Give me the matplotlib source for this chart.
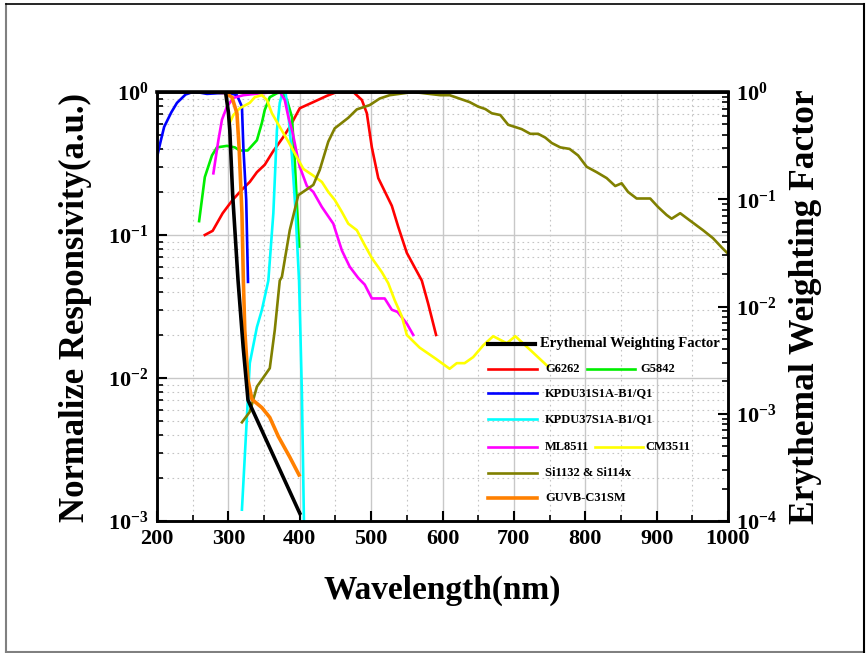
import matplotlib
matplotlib.use('Agg')
import matplotlib.pyplot as plt
from matplotlib.lines import Line2D
from matplotlib.ticker import FixedLocator, FixedFormatter, LogLocator, NullFormatter, MultipleLocator

plt.rcParams['font.family'] = ['Liberation Serif', 'DejaVu Serif']
plt.rcParams['font.weight'] = 'bold'
plt.rcParams['mathtext.fontset'] = 'custom'
plt.rcParams['mathtext.rm'] = 'Liberation Serif:bold'
plt.rcParams['mathtext.bf'] = 'Liberation Serif:bold'
plt.rcParams['mathtext.it'] = 'Liberation Serif:bold:italic'

# ---------------- data ----------------
wl_g6262 = [267, 278, 292, 306, 320, 330, 340, 351, 362, 377, 386, 400, 419, 438, 452, 475,
            487, 494, 501, 510, 529, 538, 550, 571, 580, 591]
r_g6262 = [0.10, 0.107, 0.142, 0.176, 0.21, 0.235, 0.275, 0.31, 0.38, 0.485, 0.57, 0.77, 0.85,
           0.94, 1.0, 1.0, 0.88, 0.71, 0.41, 0.25, 0.16, 0.114, 0.075, 0.048, 0.033, 0.020]

wl_g5842 = [259, 267, 277, 284, 298, 309, 316, 327, 340, 347, 351, 358, 368, 375, 382, 389, 393, 399]
r_g5842 = [0.125, 0.254, 0.36, 0.41, 0.42, 0.41, 0.39, 0.39, 0.46, 0.61, 0.75, 0.92, 0.98, 1.0,
           0.88, 0.67, 0.33, 0.083]

wl_kpdu31 = [200, 205, 210, 220, 228, 240, 250, 260, 270, 285, 300, 306, 312, 319, 321, 325, 327.5]
r_kpdu31 = [0.35, 0.45, 0.57, 0.72, 0.84, 0.96, 1.0, 0.99, 0.97, 0.98, 0.98, 0.97, 0.95, 0.79,
            0.41, 0.176, 0.047]

wl_kpdu37 = [319, 330, 340, 347, 356, 363, 368, 372, 376, 380, 384, 389, 394, 399, 401, 403, 404.5, 406]
r_kpdu37 = [0.0012, 0.0127, 0.0227, 0.030, 0.048, 0.142, 0.54, 0.84, 1.0, 1.0, 0.71, 0.36, 0.15,
            0.048, 0.02, 0.0078, 0.0027, 0.0009]

wl_ml8511 = [279, 286, 291, 298, 307, 321, 345, 368, 372, 379, 384, 390, 396, 400, 410, 419, 431,
             447, 459, 470, 482, 491, 501, 519, 529, 537, 550, 559]
r_ml8511 = [0.27, 0.46, 0.64, 0.79, 0.91, 0.95, 0.98, 1.0, 1.0, 0.88, 0.67, 0.52, 0.37, 0.30,
            0.22, 0.20, 0.157, 0.12, 0.078, 0.06, 0.05, 0.045, 0.036, 0.036, 0.03, 0.029, 0.024, 0.020]

wl_cm3511 = [302, 307, 316, 330, 337, 347, 354, 361, 372, 384, 396, 405, 419, 431, 440, 449, 459,
             468, 480, 491, 501, 515, 524, 533, 543, 550, 568, 590, 610, 620, 631, 643, 657, 671,
             690, 702, 723, 748]
r_cm3511 = [0.61, 0.69, 0.77, 0.84, 0.92, 0.95, 0.88, 0.71, 0.57, 0.45, 0.35, 0.29, 0.26, 0.235,
            0.20, 0.176, 0.145, 0.12, 0.108, 0.085, 0.069, 0.055, 0.046, 0.035, 0.027, 0.020,
            0.0163, 0.0137, 0.0116, 0.0127, 0.0127, 0.014, 0.0169, 0.0196, 0.0175, 0.0196,
            0.0157, 0.012]

wl_si1132 = [319, 330, 340, 358, 365, 372, 375, 386, 398, 419, 428, 440, 449, 468, 480, 498, 512,
             526, 559, 597, 610, 638, 650, 660, 669, 681, 692, 711, 723, 734, 744, 753, 765, 778,
             790, 802, 816, 830, 842, 851, 860, 872, 891, 902, 914, 921, 933, 946, 965, 979, 991, 1000]
r_si1132 = [0.0049, 0.0058, 0.0087, 0.0117, 0.0216, 0.048, 0.051, 0.108, 0.19, 0.224, 0.285,
            0.45, 0.557, 0.66, 0.756, 0.81, 0.90, 0.95, 1.0, 0.95, 0.95, 0.85, 0.79, 0.76, 0.71,
            0.69, 0.59, 0.55, 0.51, 0.51, 0.48, 0.44, 0.41, 0.40, 0.36, 0.30, 0.275, 0.25, 0.22,
            0.23, 0.20, 0.18, 0.18, 0.157, 0.138, 0.13, 0.142, 0.127, 0.108, 0.095, 0.082, 0.074]

wl_guvb = [277, 295, 305, 312, 315, 319, 321, 323, 327.5, 333, 347, 358, 370, 386, 399]
r_guvb = [1.0, 0.99, 0.92, 0.71, 0.41, 0.142, 0.048, 0.0216, 0.0097, 0.0071, 0.0062, 0.0053,
          0.0039, 0.0028, 0.0021]

# erythemal weighting factor (right axis)
wl_ery = [280, 296, 300, 302, 306, 313.5, 320.7, 327.5, 400]
w_ery = [1.0, 1.0, 0.65, 0.44, 0.11, 0.0177, 0.0042, 0.00134, 0.000118]

x_ticks = [200, 300, 400, 500, 600, 700, 800, 900, 1000]
left_ticks = [1e-3, 1e-2, 1e-1, 1]
left_labels = [r'$\mathbf{10^{-3}}$', r'$\mathbf{10^{-2}}$', r'$\mathbf{10^{-1}}$', r'$\mathbf{10^{0}}$']
right_ticks = [1e-4, 1e-3, 1e-2, 1e-1, 1]
right_labels = [r'$\mathbf{10^{-4}}$', r'$\mathbf{10^{-3}}$', r'$\mathbf{10^{-2}}$',
                r'$\mathbf{10^{-1}}$', r'$\mathbf{10^{0}}$']

# ---------------- figure ----------------
W, H = 866, 653
fig = plt.figure(figsize=(W / 100, H / 100), dpi=100)
fig.patch.set_facecolor('white')
X0, X1, YT, YB = 157, 728, 92, 521
ax = fig.add_axes([X0 / W, 1 - YB / H, (X1 - X0) / W, (YB - YT) / H])
ax2 = ax.twinx()

LW = 1.9
ax.plot(wl_g6262, r_g6262, color='#ff0000', lw=LW)
ax.plot(wl_g5842, r_g5842, color='#00ee00', lw=LW)
ax.plot(wl_kpdu31, r_kpdu31, color='#0000ff', lw=LW)
ax.plot(wl_kpdu37, r_kpdu37, color='#00ffff', lw=LW)
ax.plot(wl_ml8511, r_ml8511, color='#ff00ff', lw=LW)
ax.plot(wl_cm3511, r_cm3511, color='#ffff00', lw=LW)
ax.plot(wl_si1132, r_si1132, color='#808000', lw=LW)
ax.plot(wl_guvb, r_guvb, color='#ff8000', lw=2.6)
ax2.plot(wl_ery, w_ery, color='black', lw=2.6)

ax.set_yscale('log')
ax2.set_yscale('log')
ax.set_xlim(200, 1000)
ax.set_ylim(1e-3, 1)
ax2.set_ylim(1e-4, 1)

ax.xaxis.set_major_locator(FixedLocator(x_ticks))
ax.xaxis.set_minor_locator(MultipleLocator(50))
ax.yaxis.set_major_locator(FixedLocator(left_ticks))
ax.yaxis.set_major_formatter(FixedFormatter(left_labels))
ax.yaxis.set_minor_locator(LogLocator(base=10, subs=range(2, 10)))
ax.yaxis.set_minor_formatter(NullFormatter())
ax2.yaxis.set_major_locator(FixedLocator(right_ticks))
ax2.yaxis.set_major_formatter(FixedFormatter(right_labels))
ax2.yaxis.set_minor_locator(LogLocator(base=10, subs=range(2, 10)))
ax2.yaxis.set_minor_formatter(NullFormatter())

ax.grid(which='major', color='#c8c8c8', lw=1.0, ls='-')
ax.grid(which='minor', color='#c4c4c4', lw=0.8, ls=(0, (1.5, 3)))
ax.set_axisbelow(True)

for a in (ax, ax2):
    for s in a.spines.values():
        s.set_linewidth(1.8)
        s.set_color('black')
ax.spines['top'].set_linewidth(2.6)

ax.tick_params(axis='both', which='major', direction='in', length=7, width=1.5,
               labelsize=16, pad=6, top=False, right=False)
ax.tick_params(axis='both', which='minor', direction='in', length=4, width=1.2,
               top=False, right=False)
ax2.tick_params(axis='y', which='major', direction='in', length=7, width=1.5,
                labelsize=16, pad=6)
ax2.tick_params(axis='y', which='minor', direction='in', length=4, width=1.2)
for lbl in ax.get_xticklabels():
    lbl.set_fontweight('bold')

# axis titles
fig.text(75 / W, 1 - 307 / H, 'Normalize Responsivity(a.u.)', rotation=90,
         ha='center', va='center', fontsize=25, fontweight='bold')
fig.text(805 / W, 1 - 307 / H, 'Erythemal Weighting Factor', rotation=90,
         ha='center', va='center', fontsize=25.5, fontweight='bold')
fig.text(442 / W, 1 - 590 / H, 'Wavelength(nm)', ha='center', va='center',
         fontsize=24, fontweight='bold')

# ---------------- legend (hand-placed, pixel coords) ----------------
def axc(px, py):
    return (px - X0) / (X1 - X0), (YB - py) / (YB - YT)

leg_labels = ['Erythemal Weighting Factor', 'G6262', 'G5842', 'KPDU31S1A-B1/Q1',
              'KPDU37S1A-B1/Q1', 'ML8511', 'CM3511', 'Si1132 & Si114x', 'GUVB-C31SM']
leg_colors = ['black', '#ff0000', '#00ee00', '#0000ff', '#00ffff', '#ff00ff', '#ffff00',
              '#808000', '#ff8000']
leg_pos = [(488, 535, 540, 344), (488, 537, 545, 369), (587, 635, 640, 369),
           (488, 537, 545, 393), (488, 537, 545, 419), (488, 537, 545, 447),
           (595, 643, 645, 447), (488, 537, 545, 473), (488, 537, 545, 498)]
leg_lw = [3.0, 1.9, 1.9, 1.9, 1.9, 1.9, 1.9, 1.9, 2.6]
leg_fs = [10.5, 9, 9, 9, 9, 9, 9, 9, 9]
for lab, col, (xa, xb, xt, yy), lw, fs in zip(leg_labels, leg_colors, leg_pos, leg_lw, leg_fs):
    p1 = axc(xa, yy)
    p2 = axc(xb, yy)
    ax2.add_line(Line2D([p1[0], p2[0]], [p1[1], p2[1]], color=col, lw=lw,
                        transform=ax2.transAxes, clip_on=False))
    tx, ty = axc(xt, yy)
    ax2.text(tx, ty, lab, transform=ax2.transAxes, ha='left', va='center',
             fontsize=fs, fontweight='bold')

# outer frame
fig.add_artist(Line2D([6 / W, 6 / W], [1 - 4 / H, 1 - 652 / H], color='#808080', lw=1.5,
                      transform=fig.transFigure))
fig.add_artist(Line2D([6 / W, 864 / W], [1 - 652 / H, 1 - 652 / H], color='#808080', lw=1.5,
                      transform=fig.transFigure))
fig.add_artist(Line2D([6 / W, 864 / W], [1 - 4 / H, 1 - 4 / H], color='black', lw=1.2,
                      transform=fig.transFigure))
fig.add_artist(Line2D([864 / W, 864 / W], [1 - 4 / H, 1 - 652 / H], color='black', lw=1.5,
                      transform=fig.transFigure))

fig.savefig('out.png', dpi=100)
